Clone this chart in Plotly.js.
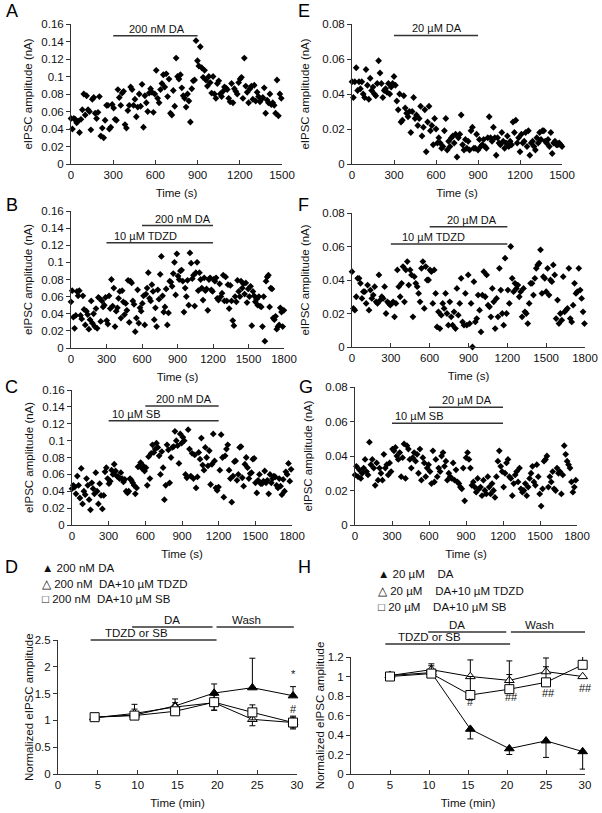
<!DOCTYPE html>
<html><head><meta charset="utf-8">
<script src="https://cdn.plot.ly/plotly-3.0.1.min.js"></script>
<style>html,body{margin:0;padding:0;background:#fff}#chart{width:602px;height:813px}</style>
</head><body><div id="chart"></div>
<script>
// ---------- DATA ----------
// Panel A: 200 nM DA (amplitude in nA, sampled every ~10 s)
const ampA = [0.052,0.040,0.052,0.051,0.047,0.049,0.036,0.051,0.062,0.080,
 0.056,0.078,0.062,0.060,0.039,0.074,0.076,0.058,0.052,0.059,
 0.077,0.032,0.041,0.030,0.050,0.067,0.067,0.040,0.042,0.068,
 0.064,0.051,0.050,0.085,0.076,0.067,0.081,0.083,0.045,0.041,
 0.061,0.067,0.088,0.085,0.067,0.074,0.054,0.065,0.080,0.066,
 0.091,0.042,0.078,0.070,0.060,0.081,0.086,0.082,0.059,0.080,
 0.107,0.075,0.070,0.085,0.092,0.102,0.088,0.103,0.077,0.097,
 0.058,0.056,0.084,0.066,0.121,0.100,0.097,0.102,0.087,0.078,
 0.075,0.065,0.080,0.072,0.048,0.086,0.095,0.096,0.141,0.118,
 0.112,0.134,0.110,0.099,0.107,0.096,0.089,0.100,0.093,0.081,
 0.100,0.080,0.075,0.092,0.095,0.080,0.077,0.083,0.088,0.087,
 0.085,0.075,0.071,0.092,0.070,0.086,0.083,0.080,0.093,0.097,
 0.099,0.075,0.121,0.089,0.082,0.070,0.086,0.089,0.074,0.090,
 0.072,0.082,0.077,0.071,0.074,0.076,0.087,0.058,0.073,0.070,
 0.080,0.068,0.070,0.067,0.058,0.096,0.055,0.080,0.075];
// Panel E: 20 µM DA
const ampE = [0.047,0.038,0.047,0.055,0.042,0.047,0.043,0.047,0.040,0.038,
 0.054,0.045,0.037,0.049,0.042,0.044,0.040,0.039,0.046,0.059,
 0.052,0.046,0.038,0.042,0.043,0.041,0.046,0.040,0.044,0.046,
 0.050,0.045,0.036,0.031,0.040,0.024,0.025,0.039,0.032,0.029,
 0.027,0.030,0.018,0.030,0.038,0.026,0.028,0.022,0.026,0.033,
 0.016,0.021,0.031,0.007,0.024,0.033,0.019,0.022,0.011,0.026,
 0.020,0.012,0.015,0.012,0.009,0.010,0.019,0.026,0.008,0.013,
 0.010,0.015,0.016,0.012,0.017,0.004,0.015,0.017,0.028,0.011,
 0.008,0.014,0.009,0.013,0.008,0.019,0.021,0.009,0.009,0.017,
 0.008,0.014,0.010,0.011,0.014,0.010,0.009,0.015,0.027,0.015,
 0.013,0.021,0.015,0.005,0.015,0.012,0.011,0.018,0.013,0.009,
 0.012,0.016,0.010,0.013,0.011,0.024,0.018,0.025,0.012,0.015,
 0.007,0.017,0.012,0.013,0.018,0.010,0.019,0.005,0.012,0.013,
 0.010,0.008,0.015,0.012,0.018,0.014,0.019,0.019,0.013,0.012,
 0.014,0.010,0.018,0.006,0.012,0.013,0.011,0.011,0.012,0.011,
 0.010,0.012,0.021];
// Panel B: 10 µM TDZD + 200 nM DA
const ampB = [0.054,0.067,0.036,0.023,0.038,0.066,0.061,0.067,0.038,0.034,
 0.061,0.045,0.027,0.043,0.039,0.022,0.033,0.055,0.029,0.040,
 0.025,0.046,0.023,0.059,0.058,0.031,0.055,0.048,0.050,0.059,
 0.032,0.028,0.061,0.046,0.080,0.049,0.070,0.025,0.043,0.047,
 0.058,0.066,0.035,0.067,0.054,0.039,0.052,0.044,0.079,0.030,
 0.078,0.076,0.055,0.051,0.019,0.035,0.068,0.029,0.047,0.043,
 0.052,0.061,0.027,0.063,0.070,0.088,0.058,0.055,0.074,0.066,
 0.033,0.047,0.025,0.068,0.057,0.086,0.107,0.061,0.042,0.048,
 0.069,0.027,0.041,0.078,0.077,0.072,0.087,0.100,0.062,0.110,
 0.084,0.080,0.090,0.091,0.078,0.042,0.070,0.060,0.079,0.050,
 0.111,0.099,0.081,0.085,0.049,0.088,0.100,0.067,0.088,0.080,
 0.070,0.056,0.082,0.067,0.069,0.044,0.080,0.082,0.068,0.066,
 0.080,0.078,0.082,0.058,0.056,0.075,0.060,0.064,0.085,0.055,
 0.083,0.055,0.074,0.046,0.073,0.055,0.032,0.026,0.060,0.054,
 0.079,0.066,0.060,0.078,0.070,0.075,0.063,0.076,0.053,0.069,
 0.060,0.072,0.026,0.066,0.061,0.054,0.057,0.050,0.060,0.049,
 0.048,0.025,0.060,0.008,0.078,0.083,0.085,0.048,0.070,0.069,
 0.035,0.033,0.037,0.022,0.025,0.027,0.047,0.042,0.025,0.044];
// Panel F: 10 µM TDZD + 20 µM DA
const ampF = [0.045,0.023,0.022,0.030,0.041,0.041,0.038,0.029,0.033,0.033,
 0.026,0.037,0.022,0.034,0.029,0.031,0.036,0.027,0.026,0.043,
 0.028,0.030,0.029,0.036,0.020,0.027,0.026,0.025,0.026,0.027,
 0.018,0.026,0.046,0.036,0.030,0.038,0.048,0.027,0.046,0.051,
 0.037,0.046,0.043,0.018,0.042,0.038,0.036,0.032,0.027,0.047,
 0.051,0.023,0.048,0.040,0.040,0.046,0.045,0.026,0.046,0.032,
 0.012,0.021,0.011,0.019,0.026,0.023,0.032,0.020,0.013,0.027,
 0.018,0.013,0.021,0.011,0.035,0.019,0.026,0.041,0.015,0.013,
 0.032,0.013,0.043,0.014,0.026,0.000,0.039,0.015,0.017,0.031,
 0.022,0.009,0.031,0.045,0.030,0.043,0.025,0.024,0.018,0.035,
 0.027,0.011,0.029,0.018,0.047,0.034,0.020,0.013,0.053,0.020,
 0.034,0.026,0.060,0.041,0.033,0.038,0.035,0.037,0.030,0.033,
 0.018,0.035,0.021,0.020,0.014,0.026,0.038,0.038,0.031,0.041,
 0.047,0.049,0.050,0.058,0.032,0.042,0.041,0.033,0.047,0.031,
 0.040,0.039,0.049,0.043,0.017,0.028,0.014,0.020,0.016,0.042,
 0.021,0.022,0.023,0.047,0.017,0.015,0.025,0.038,0.032,0.033,
 0.047,0.034,0.029,0.021,0.014];
// Panel C: 10 µM SB + 200 nM DA
const ampC = [0.043,0.047,0.045,0.037,0.058,0.047,0.032,0.067,0.025,0.040,
 0.036,0.055,0.047,0.030,0.018,0.050,0.043,0.037,0.062,0.040,
 0.025,0.049,0.035,0.019,0.035,0.063,0.068,0.055,0.049,0.052,
 0.065,0.060,0.072,0.064,0.058,0.057,0.055,0.062,0.055,0.051,
 0.054,0.040,0.038,0.040,0.055,0.053,0.050,0.047,0.037,0.044,
 0.069,0.070,0.074,0.067,0.070,0.064,0.068,0.047,0.081,0.055,
 0.085,0.095,0.086,0.090,0.097,0.092,0.082,0.060,0.087,0.068,
 0.030,0.047,0.095,0.089,0.050,0.080,0.092,0.093,0.111,0.100,
 0.094,0.073,0.108,0.097,0.104,0.100,0.060,0.056,0.113,0.090,
 0.058,0.085,0.055,0.083,0.044,0.057,0.086,0.078,0.103,0.071,
 0.065,0.092,0.080,0.070,0.088,0.048,0.072,0.108,0.076,0.044,
 0.041,0.045,0.065,0.107,0.080,0.033,0.082,0.090,0.095,0.065,
 0.055,0.027,0.058,0.075,0.076,0.053,0.060,0.092,0.093,0.056,
 0.046,0.072,0.080,0.068,0.055,0.061,0.062,0.078,0.079,0.050,
 0.038,0.053,0.060,0.049,0.049,0.052,0.064,0.050,0.053,0.037,
 0.060,0.050,0.055,0.058,0.057,0.047,0.044,0.055,0.046,0.036,
 0.054,0.040,0.063,0.060,0.073,0.052,0.066,0.066];
// Panel G: 10 µM SB + 20 µM DA
const ampG = [0.029,0.034,0.028,0.032,0.027,0.030,0.033,0.038,0.031,0.029,
 0.048,0.035,0.038,0.033,0.023,0.036,0.026,0.033,0.030,0.026,
 0.041,0.033,0.035,0.029,0.036,0.031,0.044,0.043,0.045,0.040,
 0.038,0.042,0.028,0.039,0.047,0.027,0.046,0.044,0.038,0.033,
 0.039,0.042,0.037,0.041,0.030,0.044,0.026,0.039,0.036,0.028,
 0.033,0.035,0.031,0.024,0.043,0.025,0.038,0.028,0.033,0.031,
 0.040,0.042,0.034,0.037,0.026,0.030,0.028,0.027,0.036,0.026,
 0.032,0.025,0.024,0.022,0.021,0.033,0.014,0.039,0.042,0.038,
 0.033,0.023,0.025,0.022,0.019,0.027,0.021,0.022,0.017,0.026,
 0.020,0.018,0.028,0.022,0.018,0.024,0.020,0.016,0.028,0.037,
 0.043,0.034,0.031,0.022,0.030,0.036,0.038,0.028,0.027,0.017,
 0.024,0.029,0.031,0.025,0.033,0.021,0.019,0.020,0.024,0.017,
 0.022,0.027,0.030,0.034,0.025,0.023,0.035,0.028,0.018,0.011,
 0.021,0.037,0.038,0.040,0.022,0.028,0.025,0.031,0.021,0.020,
 0.033,0.030,0.031,0.018,0.029,0.046,0.041,0.037,0.035,0.033,
 0.025,0.019,0.022,0.026,0.018];
// sampling step (s) per panel
const sampleStep = {A:10.1, E:10, B:10.05, F:10.95, C:10.8, G:11.7};

// Panel D (200 nM DA), normalized amplitude vs time (min)
const timeD = [4.6, 9.6, 14.7, 19.6, 24.4, 29.5];
const dDA = [1.06, 1.10, 1.27, 1.51, 1.61, 1.46];
const dDAerr = [0.01, 0.20, 0.13, 0.17, 0.55, 0.17];
const dTDZD = [1.05, 1.13, 1.25, 1.33, 1.02, 0.96];
const dTDZDerr = [0.01, 0.08, 0.08, 0.14, 0.12, 0.10];
const dSB = [1.06, 1.09, 1.17, 1.34, 1.15, 0.96];
const dSBerr = [0.01, 0.06, 0.05, 0.15, 0.14, 0.12];
// Panel H (20 µM DA)
const timeH = [5.0, 10.3, 15.3, 20.3, 25.0, 29.7];
const hDA = [1.01, 1.04, 0.46, 0.26, 0.34, 0.23];
const hDAerr = [0.01, 0.03, 0.10, 0.06, 0.17, 0.18];
const hTDZD = [1.01, 1.07, 1.00, 0.96, 1.05, 1.00];
const hTDZDerr = [0.01, 0.06, 0.17, 0.20, 0.14, 0.00];
const hSB = [1.00, 1.03, 0.81, 0.87, 0.94, 1.12];
const hSBerr = [0.01, 0.08, 0.19, 0.15, 0.16, 0.10];

// drug application windows (s) and labels
const winDA200 = [300, 900];
const winDA20 = [300, 900];
const winDAlate = [600, 1200];
const winPre = [300, 1200];
const legendD = ['200 nM DA', '200 nM  DA+10 µM TDZD', '200 nM  DA+10 µM SB'];
const legendH = ['20 µM    DA', '20 µM    DA+10 µM TDZD', '20 µM    DA+10 µM SB'];
const sigH = ['*', '**', '**', '*'];
const hashH = ['#', '##', '##', '##'];

// ---------- LAYOUT HELPERS ----------
const W = 602, H = 813;
const FONT = 'Liberation Sans, Arial, sans-serif';
const INK = '#111';
const hd = (l, r) => [l / W, r / W];
const vd = (top, bot) => [1 - bot / H, 1 - top / H];
const px = v => v / W, py = v => 1 - v / H;

function xax(dom, range, dtick, anchor, title) {
  return {domain: dom, range: range, dtick: dtick, tick0: 0, anchor: anchor,
    showline: true, linecolor: '#333', linewidth: 1, ticks: 'inside', ticklen: 4,
    tickcolor: '#333', showgrid: false, zeroline: false, fixedrange: true,
    tickfont: {family: FONT, size: 11.5, color: INK},
    title: {text: title, font: {family: FONT, size: 11.5, color: INK}, standoff: 9}};
}
function yax(dom, range, dtick, anchor, title, so) {
  const a = {domain: dom, range: range, dtick: dtick, tick0: 0, anchor: anchor,
    showline: true, linecolor: '#333', linewidth: 1, ticks: 'outside', ticklen: 4,
    tickcolor: '#333', showgrid: false, zeroline: false, fixedrange: true,
    tickfont: {family: FONT, size: 11.5, color: INK}};
  if (title) a.title = {text: title, font: {family: FONT, size: 11.5, color: INK}, standoff: so};
  return a;
}
const AMP = 'eIPSC amplitude (nA)';
const NORM = 'Normalized eIPSC amplitude';
const layout = {
  width: W, height: H, margin: {l: 0, r: 0, t: 0, b: 0},
  paper_bgcolor: '#fff', plot_bgcolor: '#fff', showlegend: false,
  font: {family: FONT, color: INK},
  xaxis:  xax(hd(71, 282), [0, 1500], 300, 'y', 'Time (s)'),
  yaxis:  yax(vd(24, 164), [0, 0.16], 0.02, 'x', AMP, 6),
  xaxis2: xax(hd(352, 562), [0, 1500], 300, 'y2', 'Time (s)'),
  yaxis2: yax(vd(24, 164), [0, 0.08], 0.02, 'x2', AMP, 10),
  xaxis3: xax(hd(71, 284), [0, 1800], 300, 'y3', 'Time (s)'),
  yaxis3: yax(vd(211, 348), [0, 0.16], 0.02, 'x3', AMP, 6),
  xaxis4: xax(hd(352, 585), [0, 1800], 300, 'y4', 'Time (s)'),
  yaxis4: yax(vd(213, 347), [0, 0.08], 0.02, 'x4', AMP, 10),
  xaxis5: xax(hd(72, 292), [0, 1800], 300, 'y5', 'Time (s)'),
  yaxis5: yax(vd(390, 525), [0, 0.16], 0.02, 'x5', AMP, 6),
  xaxis6: xax(hd(355, 577), [0, 1800], 300, 'y6', 'Time (s)'),
  yaxis6: yax(vd(387, 525), [0, 0.08], 0.02, 'x6', AMP, 10),
  xaxis7: xax(hd(58, 297), [0, 30], 5, 'y7', 'Time (min)'),
  yaxis7: yax(vd(640, 774), [0, 2.5], 0.5, 'x7', null, 0),
  xaxis8: xax(hd(351, 585), [0, 30], 5, 'y8', 'Time (min)'),
  yaxis8: yax(vd(657, 774), [0, 1.2], 0.2, 'x8', NORM, 0),
  shapes: [], annotations: []
};
// y title of panel D placed as an annotation (closer to the axis than Plotly's minimum standoff)
layout.annotations.push({xref: 'paper', yref: 'paper', x: px(29), y: py(707), text: NORM, textangle: -90,
  showarrow: false, xanchor: 'center', yanchor: 'middle', font: {family: FONT, size: 11.5, color: INK}});

// ---------- TRACES ----------
const traces = [];
function scat(y, step, n) {
  traces.push({type: 'scatter', mode: 'markers', x0: 0, dx: step, y: y,
    xaxis: 'x' + (n === 1 ? '' : n), yaxis: 'y' + (n === 1 ? '' : n), cliponaxis: false,
    marker: {symbol: 'diamond', size: 5.2, color: '#000'}, hoverinfo: 'skip'});
}
scat(ampA, sampleStep.A, 1);
scat(ampE, sampleStep.E, 2);
scat(ampB, sampleStep.B, 3);
scat(ampF, sampleStep.F, 4);
scat(ampC, sampleStep.C, 5);
scat(ampG, sampleStep.G, 6);

function meanTrace(x, y, err, plusOnly, minusOnly, sym, fill, n) {
  const zeros = err.map(() => 0);
  traces.push({type: 'scatter', mode: 'lines+markers', x: x, y: y,
    xaxis: 'x' + n, yaxis: 'y' + n, cliponaxis: false,
    line: {color: '#000', width: 1},
    marker: {symbol: sym, size: sym === 'square' ? 9 : 8.5, color: fill, line: {color: '#000', width: 1}},
    error_y: {type: 'data', symmetric: false, array: minusOnly ? zeros : err,
      arrayminus: plusOnly ? zeros : err, color: '#000', thickness: 1, width: 3},
    hoverinfo: 'skip'});
}
meanTrace(timeD, dDA, dDAerr, true, false, 'triangle-up', '#000', 7);
meanTrace(timeD, dTDZD, dTDZDerr, false, false, 'triangle-up', '#fff', 7);
meanTrace(timeD, dSB, dSBerr, false, false, 'square', '#fff', 7);
meanTrace(timeH, hDA, hDAerr, false, true, 'triangle-up', '#000', 8);
meanTrace(timeH, hTDZD, hTDZDerr, true, false, 'triangle-up', '#fff', 8);
meanTrace(timeH, hSB, hSBerr, true, false, 'square', '#fff', 8);

// ---------- DRUG BARS ----------
const BAR = {color: '#333', width: 1.5};
function dbar(xr, yr, win, level, label, labelX) {
  layout.shapes.push({type: 'line', xref: xr, yref: yr, x0: win[0], x1: win[1], y0: level, y1: level, line: BAR});
  layout.annotations.push({xref: xr, yref: yr, x: labelX, y: level, text: label, showarrow: false,
    xanchor: 'left', yanchor: 'bottom', yshift: -1, font: {family: FONT, size: 11, color: INK}});
}
dbar('x', 'y', winDA200, 0.1466, '200 nM DA', 400);
dbar('x2', 'y2', winDA20, 0.0735, '20 µM DA', 414);
dbar('x3', 'y3', winDAlate, 0.143, '200 nM DA', 690);
dbar('x3', 'y3', winPre, 0.123, '10 µM TDZD', 350);
dbar('x4', 'y4', winDAlate, 0.0718, '20 µM DA', 715);
dbar('x4', 'y4', winPre, 0.0615, '10 µM TDZD', 370);
dbar('x5', 'y5', winDAlate, 0.141, '200 nM DA', 670);
dbar('x5', 'y5', winPre, 0.1236, '10 µM SB', 310);
dbar('x6', 'y6', winDAlate, 0.0682, '20 µM DA', 690);
dbar('x6', 'y6', winPre, 0.059, '10 µM SB', 308);

// protocol bars above D and H (minutes)
function pbar(xr, t0, t1, ypx, label, tx, typx) {
  layout.shapes.push({type: 'line', xref: xr, yref: 'paper', x0: t0, x1: t1, y0: py(ypx), y1: py(ypx), line: BAR});
  layout.annotations.push({xref: xr, yref: 'paper', x: tx, y: py(typx), text: label, showarrow: false,
    xanchor: 'center', yanchor: 'middle', font: {family: FONT, size: 11.5, color: INK}});
}
pbar('x7', 4.1, 19.9, 640, 'TDZD or SB', 9.9, 633);
pbar('x7', 9.3, 19.4, 627, 'DA', 14.3, 620);
pbar('x7', 19.9, 29.6, 627, 'Wash', 23.7, 620);
pbar('x8', 4.4, 20.4, 644, 'TDZD or SB', 10.1, 637);
pbar('x8', 9.9, 19.9, 632, 'DA', 13.6, 625);
pbar('x8', 20.5, 30, 632, 'Wash', 24.2, 625);

// significance marks
const sigFont = {family: FONT, size: 11, color: INK};
layout.annotations.push({xref: 'x7', yref: 'y7', x: timeD[5], y: 1.86, text: '*', showarrow: false, font: sigFont});
layout.annotations.push({xref: 'x7', yref: 'y7', x: timeD[5], y: 1.21, text: '#', showarrow: false, font: sigFont});
const sigY = [1.24, 1.24, 1.27, 1.30];
const hashY = [0.74, 0.79, 0.83, 0.88];
for (let i = 0; i < 4; i++) {
  layout.annotations.push({xref: 'x8', yref: 'y8', x: timeH[i + 2], y: sigY[i], text: sigH[i], showarrow: false, font: sigFont});
  layout.annotations.push({xref: 'x8', yref: 'y8', x: timeH[i + 2] + (i > 0 ? 0.3 : 0), y: hashY[i], text: hashH[i], showarrow: false, font: sigFont});
}

// legends for D and H
const glyphs = ['▲', '△', '□'];
function legendBlock(items, xpx, ypx0, gap) {
  items.forEach((t, i) => {
    layout.annotations.push({xref: 'paper', yref: 'paper', x: px(xpx), y: py(ypx0 + i * gap),
      text: glyphs[i] + '\u00a0' + t.replace(/ {2,}/g, m => '\u00a0'.repeat(m.length)),
      showarrow: false, xanchor: 'left', yanchor: 'middle', font: {family: FONT, size: 11.5, color: INK}});
  });
}
legendBlock(legendD, 40, 568, 15.5);
legendBlock(legendH, 376, 574, 16.5);

// panel letters
const letters = [['A', 4, 11], ['E', 296, 11], ['B', 4, 205], ['F', 296, 205], ['C', 3, 387], ['G', 297, 387], ['D', 3, 567], ['H', 296, 567]];
letters.forEach(([t, x, y]) => layout.annotations.push({xref: 'paper', yref: 'paper', x: px(x), y: py(y), text: t,
  showarrow: false, xanchor: 'left', yanchor: 'middle', font: {family: FONT, size: 18, color: '#000'}}));

Plotly.newPlot('chart', traces, layout, {staticPlot: true, displayModeBar: false});
</script>
</body></html>
